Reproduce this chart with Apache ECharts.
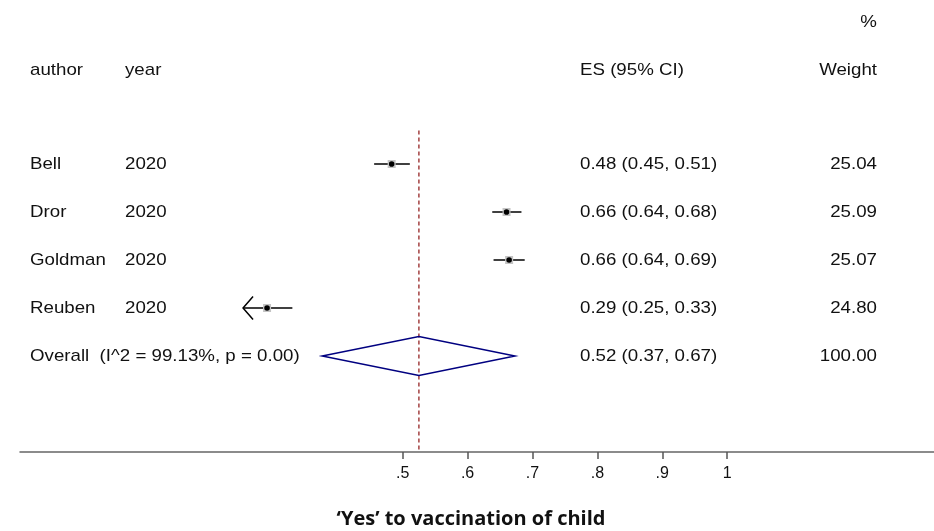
<!DOCTYPE html>
<html>
<head>
<meta charset="utf-8">
<script src="https://cdn.jsdelivr.net/npm/echarts@6/dist/echarts.min.js"></script>
<style>
  html, body { margin: 0; padding: 0; background: #fff; }
  #main { width: 934px; height: 531px; }
</style>
</head>
<body>
<div id="main"></div>
<script>
// study rows
var authors = ["Bell", "Dror", "Goldman", "Reuben"];
var years = ["2020", "2020", "2020", "2020"];
var esLabels = ["0.48 (0.45, 0.51)", "0.66 (0.64, 0.68)", "0.66 (0.64, 0.69)", "0.29 (0.25, 0.33)"];
var weightLabels = ["25.04", "25.09", "25.07", "24.80"];
// plotted effect sizes and CI
var es = [0.483, 0.660, 0.664, 0.291];
var ciLow = [0.456, 0.638, 0.640, 0.25];
var ciHigh = [0.511, 0.683, 0.688, 0.330];

// overall
var overallLabel = "Overall  (I^2 = 99.13%, p = 0.00)";
var overallEsLabel = "0.52 (0.37, 0.67)";
var overallWeight = "100.00";
var overall = [0.376, 0.525, 0.673];

var headers = ["author", "year", "ES (95% CI)", "Weight"];
var tickValues = [0.5, 0.6, 0.7, 0.8, 0.9, 1];
var tickLabels = [".5", ".6", ".7", ".8", ".9", "1"];
var xTitle = "\u2018Yes\u2019 to vaccination of child";

var clipMin = 0.254;
var FONT = "17px 'Liberation Sans', Arial, sans-serif";
var colX = [30, 125, 580, 877];

var myChart = echarts.init(document.getElementById("main"));

// table text rows: [row, c1, c2, c3, c4]
var textRows = [];
textRows.push([-2.95, "", "", "", "%"]);
textRows.push([-1.95, headers[0], headers[1], headers[2], headers[3]]);
for (var i = 0; i < authors.length; i++) {
  textRows.push([i, authors[i], years[i], esLabels[i], weightLabels[i]]);
}
textRows.push([4, overallLabel, "", overallEsLabel, overallWeight]);

var studyData = es.map(function (v, i) {
  return [i, ciLow[i], v, ciHigh[i]];
});

var option = {
  animation: false,
  grid: { left: 20, right: 0, top: 0, bottom: 79, outerBoundsMode: "none", containLabel: false },
  xAxis: {
    type: "value",
    min: -0.0897,
    max: 1.3187,
    axisLine: { show: true, onZero: false, lineStyle: { color: "#666", width: 1.5 } },
    axisTick: { show: true, customValues: tickValues, length: 7, lineStyle: { color: "#555", width: 1.5 } },
    axisLabel: {
      show: true,
      customValues: tickValues,
      margin: 14,
      color: "#111",
      fontSize: 16,
      fontFamily: "'Liberation Sans', Arial, sans-serif",
      formatter: function (v) {
        return tickLabels[tickValues.indexOf(Math.round(v * 10) / 10)];
      }
    },
    splitLine: { show: false },
    name: xTitle,
    nameLocation: "middle",
    nameGap: 57,
    nameTextStyle: {
      fontSize: 20,
      fontWeight: "bold",
      fontFamily: "'Open Sans', sans-serif",
      color: "#111",
      padding: [0, 12, 0, 0]
    }
  },
  yAxis: {
    type: "value",
    min: -3.4167,
    max: 6,
    inverse: true,
    show: false
  },
  series: [
    {
      // null line
      type: "line",
      data: [[overall[1], -0.7], [overall[1], 6]],
      symbol: "none",
      lineStyle: { color: "#8b1010", width: 1.2, type: [4, 3] },
      z: 1
    },
    {
      type: "custom",
      data: studyData,
      renderItem: function (params, api) {
        var row = api.value(0);
        var lo = api.value(1);
        var pt = api.value(2);
        var hi = api.value(3);
        var clipped = lo < clipMin;
        var pLo = api.coord([clipped ? clipMin : lo, row]);
        var pHi = api.coord([hi, row]);
        var p = api.coord([pt, row]);
        var children = [
          {
            type: "line",
            shape: { x1: pLo[0], y1: pLo[1], x2: pHi[0], y2: pHi[1] },
            style: { stroke: "#000", lineWidth: 1.5 }
          },
          {
            type: "rect",
            shape: { x: p[0] - 4, y: p[1] - 4, width: 8, height: 8 },
            style: { fill: "#c4c4c4" }
          },
          {
            type: "circle",
            shape: { cx: p[0], cy: p[1], r: 2.8 },
            style: { fill: "#000" }
          }
        ];
        if (clipped) {
          children.push({
            type: "polyline",
            shape: { points: [[pLo[0] + 10, pLo[1] - 11.5], [pLo[0], pLo[1]], [pLo[0] + 10, pLo[1] + 11.5]] },
            style: { stroke: "#000", lineWidth: 1.5, fill: null }
          });
        }
        return { type: "group", children: children };
      },
      z: 3
    },
    {
      // overall diamond
      type: "custom",
      data: [[4, overall[0], overall[1], overall[2]]],
      renderItem: function (params, api) {
        var row = api.value(0);
        var l = api.coord([api.value(1), row]);
        var c = api.coord([api.value(2), row]);
        var r = api.coord([api.value(3), row]);
        var h = 19.5;
        return {
          type: "polygon",
          shape: { points: [[l[0], l[1]], [c[0], c[1] - h], [r[0], r[1]], [c[0], c[1] + h]] },
          style: { stroke: "#000080", lineWidth: 1.5, fill: "rgba(255,255,255,0)" }
        };
      },
      z: 3
    },
    {
      // table text
      type: "custom",
      data: textRows,
      renderItem: function (params, api) {
        var row = api.value(0);
        var y = api.coord([0, row])[1];
        var d = textRows[params.dataIndex];
        var aligns = ["left", "left", "left", "right"];
        var children = [];
        for (var k = 0; k < 4; k++) {
          if (!d[k + 1]) continue;
          children.push({
            type: "text",
            x: colX[k],
            y: y,
            scaleX: 1.1,
            style: {
              text: d[k + 1],
              x: 0,
              y: 0,
              textAlign: aligns[k],
              textVerticalAlign: "middle",
              font: FONT,
              fill: "#111"
            }
          });
        }
        return { type: "group", children: children };
      },
      clip: false,
      z: 4
    }
  ]
};

myChart.setOption(option);
</script>
</body>
</html>
